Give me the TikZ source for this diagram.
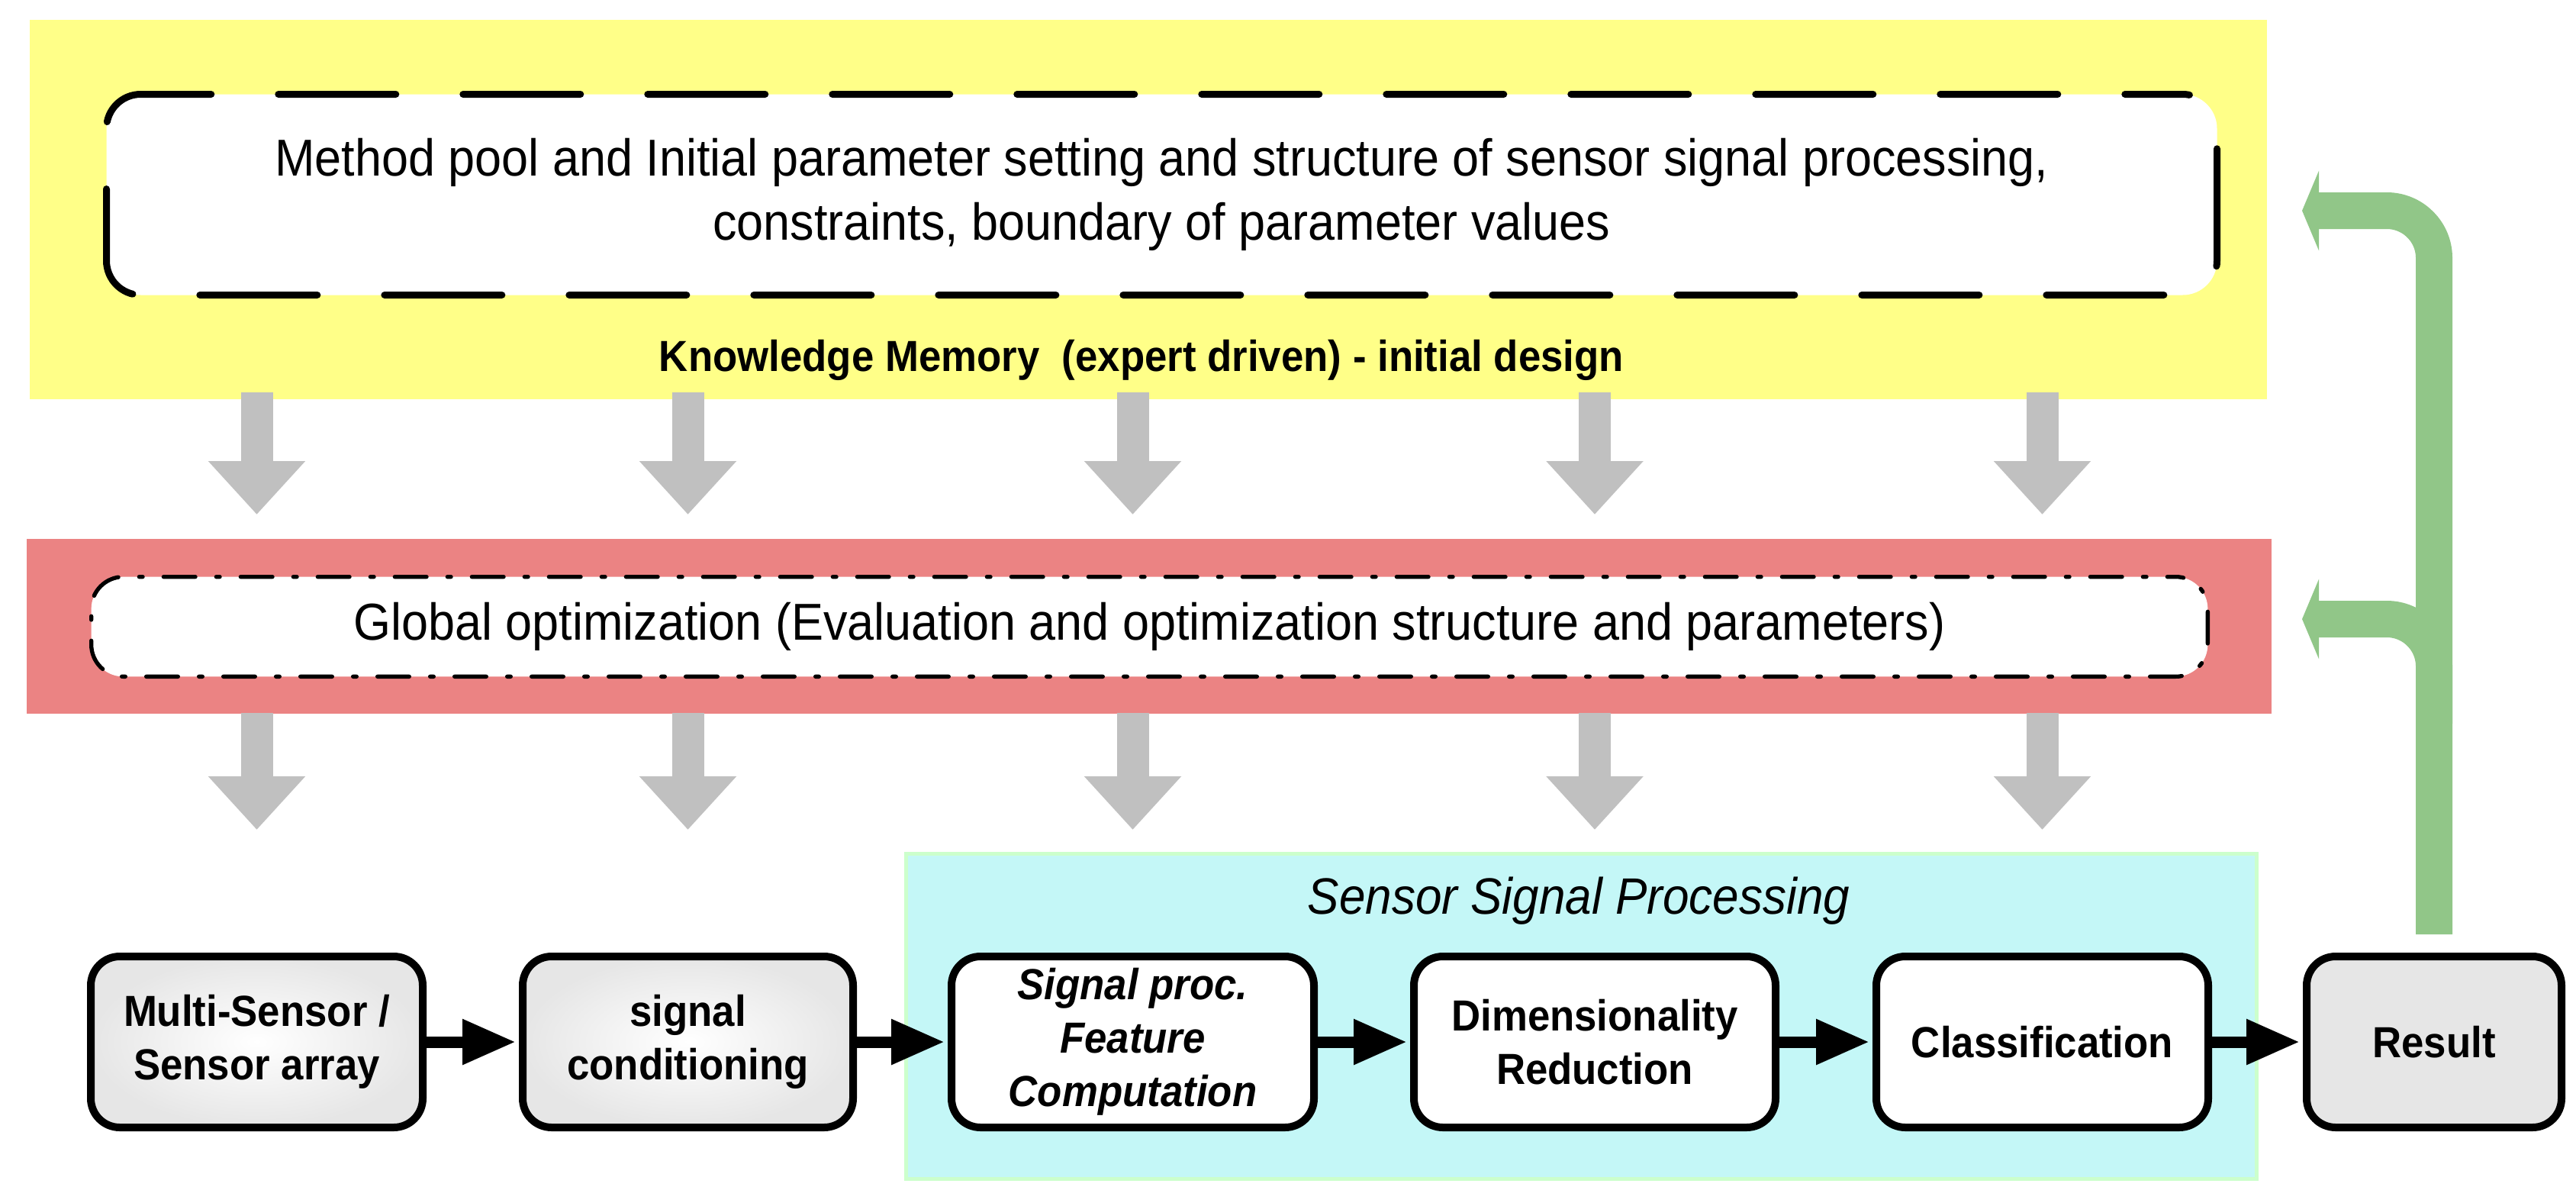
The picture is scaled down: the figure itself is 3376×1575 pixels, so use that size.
\documentclass[tikz,border=0pt]{standalone}
\usepackage{fontspec}
\setmainfont[FakeStretch=0.926]{Liberation Sans}
\usetikzlibrary{arrows.meta,calc}
\definecolor{kmyellow}{HTML}{FFFF88}
\definecolor{optred}{HTML}{EB8383}
\definecolor{sspcyan}{HTML}{C4F7F7}
\definecolor{sspborder}{HTML}{CCFFCC}
\definecolor{arrgray}{HTML}{C0C0C0}
\definecolor{fbgreen}{HTML}{91C688}
\definecolor{boxgray}{HTML}{E6E6E6}
\begin{document}
\begin{tikzpicture}[x=1pt,y=-1pt,
  panel/.style={inner sep=0pt, anchor=north west},
  regtext/.style={font=\fontsize{68}{84}\selectfont},
  boldtext/.style={font=\fontsize{57}{70}\selectfont\bfseries},
  procbox/.style={draw=black, line width=10pt, rounded corners=38pt, minimum height=224pt, inner sep=0pt, align=center, boldtext},
  shadedbox/.style={procbox, inner color=white, outer color=boxgray},
  whitebox/.style={procbox, fill=white},
  graybox/.style={procbox, fill=boxgray},
  flowarrow/.style={line width=15pt, shorten >=4pt, -{Triangle[length=70pt,width=56pt]}},
  grayarrow/.style={draw=arrgray, line width=42pt, -{Triangle[length=70pt,width=123pt]}},
  greenarrow/.style={draw=fbgreen, line width=48pt, rounded corners=62pt, -{Triangle[length=22pt,width=104pt]}},
]
\useasboundingbox (0,0) rectangle (3376,1575);

% panels
\node[panel, fill=kmyellow, minimum width=2932pt, minimum height=497pt] (km) at (39,26) {};
\node[panel, fill=optred, minimum width=2942pt, minimum height=229pt] (opt) at (35,706) {};
\node[panel, fill=sspcyan, draw=sspborder, line width=5pt, minimum width=1770pt, minimum height=426pt] (ssp) at (1184.5,1115.5) {};

% knowledge memory box
\node[draw=black, fill=white, line width=9pt, rounded corners=45pt, line cap=round,
      dash pattern=on 154pt off 88pt, dash phase=78.3pt,
      minimum width=2766pt, minimum height=263pt, inner sep=0pt, align=center, regtext] (pool) at (1522.5,255)
  {Method pool and Initial parameter setting and structure of sensor signal processing,\\constraints, boundary of parameter values};
\node[anchor=base, boldtext] (kmlabel) at (1496,486) {Knowledge Memory\ \ (expert driven) - initial design};

% global optimization box
\node[draw=black, fill=white, line width=5.3pt, rounded corners=42pt, line cap=round,
      dash pattern=on 41.7pt off 27.3pt on 4.7pt off 27.3pt, dash phase=30.7pt,
      minimum width=2773.7pt, minimum height=130.7pt, inner sep=0pt, regtext] (glob) at (1506.5,821)
  {Global optimization (Evaluation and optimization structure and parameters)};

% sensor signal processing label
\node[anchor=base, font=\fontsize{67}{80}\selectfont\itshape] (ssplabel) at (2069,1197) {Sensor Signal Processing};

% processing chain
\node[shadedbox, minimum width=435pt] (b1) at (336.5,1365) {Multi-Sensor /\\Sensor array};
\node[shadedbox, minimum width=433pt] (b2) at (901.5,1365) {signal\\conditioning};
\node[whitebox, minimum width=475pt, font=\fontsize{57}{70}\selectfont\bfseries\itshape] (b3) at (1484.5,1365) {Signal proc.\\Feature\\Computation};
\node[whitebox, minimum width=474pt] (b4) at (2090,1365) {Dimensionality\\Reduction};
\node[whitebox, minimum width=435pt] (b5) at (2676.5,1365) {Classification};
\node[graybox, minimum width=334pt] (b6) at (3190,1365) {Result};

\draw[flowarrow] (b1.east) -- (b2.west);
\draw[flowarrow] (b2.east) -- (b3.west);
\draw[flowarrow] (b3.east) -- (b4.west);
\draw[flowarrow] (b4.east) -- (b5.west);
\draw[flowarrow] (b5.east) -- (b6.west);

% gray arrows
\foreach \b in {b1,b2,b3,b4,b5} {
  \draw[grayarrow] ($(km.south -| \b.north)+(0,-9)$) -- ($(opt.north -| \b.north)+(0,-32)$);
  \draw[grayarrow] ($(opt.south -| \b.north)+(0,-1)$) -- ($(\b.north)+(0,-161)$);
}

% green feedback arrows
\coordinate (g1) at (3017,276);
\coordinate (g2) at (3017,811);
\draw[greenarrow] ($(b6.north)+(0,-24)$) -- (b6.north |- g1) -- (g1);
\draw[greenarrow] ($(b6.north)+(0,-300)$) -- (b6.north |- g2) -- (g2);
\end{tikzpicture}
\end{document}
